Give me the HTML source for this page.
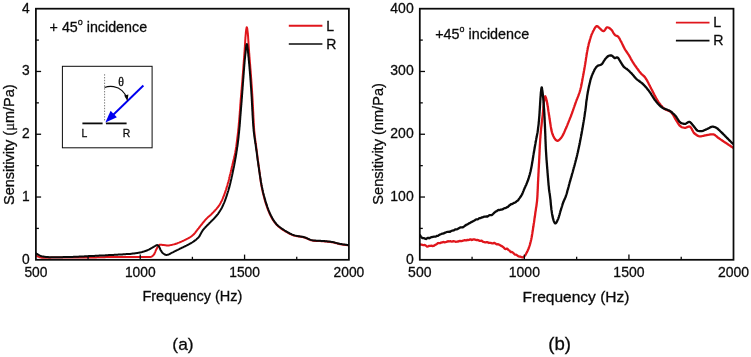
<!DOCTYPE html>
<html lang="en">
<head>
<meta charset="utf-8">
<title>Sensitivity vs Frequency</title>
<style>
html,body{margin:0;padding:0;background:#fff;}
body{width:751px;height:357px;overflow:hidden;font-family:'Liberation Sans', Arial, sans-serif;}
svg text{font-kerning:normal;stroke:#0a0a0a;stroke-width:0.28px;paint-order:stroke fill;}
</style>
</head>
<body>
<svg width="751" height="357" viewBox="0 0 751 357" style="display:block;filter:blur(0.35px)">
<rect width="751" height="357" fill="#ffffff"/>
<clipPath id="ca"><rect x="35.9" y="8.7" width="313.00" height="251.10"/></clipPath>
<clipPath id="cb"><rect x="419.8" y="8.7" width="313.70" height="251.10"/></clipPath>
<g clip-path="url(#ca)" fill="none" stroke-width="2.0" stroke-linejoin="round" stroke-linecap="round">
<path d="M36.0 255.3 L36.7 255.8 L37.3 256.2 L38.0 256.6 L38.8 256.9 L39.5 257.2 L40.3 257.4 L41.1 257.6 L41.9 257.7 L42.7 257.7 L43.5 257.7 L44.2 257.7 L45.0 257.7 L45.8 257.7 L46.6 257.7 L47.4 257.7 L48.2 257.7 L49.0 257.7 L49.8 257.7 L50.6 257.7 L51.4 257.6 L52.2 257.6 L53.0 257.6 L53.8 257.6 L54.6 257.6 L55.5 257.6 L56.3 257.6 L57.1 257.6 L57.9 257.6 L58.7 257.6 L59.5 257.6 L60.3 257.6 L61.1 257.6 L61.9 257.6 L62.7 257.6 L63.5 257.6 L64.3 257.6 L65.1 257.6 L65.9 257.6 L66.7 257.6 L67.5 257.6 L68.3 257.6 L69.1 257.6 L69.9 257.6 L70.7 257.6 L71.5 257.6 L72.3 257.6 L73.1 257.6 L73.9 257.6 L74.7 257.6 L75.5 257.6 L76.3 257.6 L77.1 257.5 L77.9 257.5 L78.7 257.5 L79.5 257.5 L80.3 257.5 L81.1 257.5 L81.9 257.5 L82.7 257.5 L83.5 257.5 L84.3 257.5 L85.1 257.5 L85.9 257.5 L86.7 257.5 L87.5 257.5 L88.3 257.5 L89.1 257.5 L89.8 257.5 L90.6 257.5 L91.4 257.5 L92.2 257.4 L93.0 257.4 L93.8 257.4 L94.6 257.4 L95.4 257.4 L96.2 257.4 L97.0 257.3 L97.8 257.3 L98.6 257.3 L99.4 257.3 L100.2 257.3 L101.0 257.3 L101.8 257.2 L102.6 257.2 L103.4 257.2 L104.2 257.2 L105.0 257.2 L105.8 257.1 L106.6 257.1 L107.4 257.1 L108.2 257.1 L109.0 257.1 L109.8 257.1 L110.6 257.0 L111.4 257.0 L112.2 257.0 L113.0 257.0 L113.8 257.0 L114.6 257.0 L115.4 257.0 L116.2 256.9 L117.0 256.9 L117.8 256.9 L118.6 256.9 L119.4 256.9 L120.2 256.9 L121.0 256.9 L121.8 256.9 L122.6 256.9 L123.4 256.9 L124.2 256.9 L125.0 256.9 L125.8 256.9 L126.6 256.9 L127.4 256.9 L128.2 256.9 L129.0 256.9 L129.8 256.9 L130.6 256.9 L131.4 256.9 L132.2 256.9 L133.0 256.9 L133.8 256.9 L134.6 256.9 L135.4 256.9 L136.2 256.9 L137.0 256.9 L137.8 256.9 L138.6 256.9 L139.4 256.9 L140.2 256.9 L141.0 256.9 L141.8 256.9 L142.7 256.9 L143.5 256.9 L144.3 256.9 L145.1 256.9 L145.9 257.0 L146.7 257.0 L147.5 257.0 L148.3 257.0 L149.1 257.0 L149.8 257.0 L150.6 256.9 L151.4 256.7 L152.1 256.3 L152.8 255.7 L153.4 255.2 L153.8 254.6 L154.3 254.0 L154.6 253.3 L155.0 252.5 L155.3 251.8 L155.6 251.0 L155.9 250.2 L156.3 249.5 L156.7 248.8 L157.0 248.1 L157.4 247.4 L157.8 246.7 L158.3 246.0 L158.8 245.4 L159.5 244.8 L160.2 244.7 L160.9 244.7 L161.8 244.8 L162.6 244.9 L163.4 244.9 L164.2 245.1 L165.0 245.2 L165.8 245.3 L166.6 245.4 L167.4 245.5 L168.1 245.5 L168.9 245.4 L169.7 245.3 L170.5 245.1 L171.3 244.9 L172.1 244.8 L172.9 244.6 L173.7 244.4 L174.4 244.2 L175.2 244.0 L176.0 243.7 L176.7 243.5 L177.5 243.2 L178.2 242.9 L179.0 242.6 L179.7 242.3 L180.4 242.0 L181.2 241.7 L181.9 241.4 L182.6 241.0 L183.4 240.7 L184.1 240.4 L184.8 240.0 L185.5 239.7 L186.2 239.3 L187.0 238.9 L187.7 238.6 L188.4 238.2 L189.1 237.8 L189.8 237.4 L190.5 237.0 L191.2 236.5 L191.8 236.1 L192.4 235.6 L193.0 235.1 L193.6 234.6 L194.1 234.0 L194.6 233.4 L195.1 232.8 L195.6 232.1 L196.1 231.5 L196.6 230.8 L197.1 230.2 L197.6 229.5 L198.1 228.9 L198.6 228.3 L199.1 227.6 L199.6 227.0 L200.1 226.4 L200.6 225.7 L201.1 225.1 L201.6 224.5 L202.1 223.9 L202.6 223.2 L203.1 222.6 L203.6 222.0 L204.1 221.4 L204.6 220.8 L205.1 220.2 L205.6 219.6 L206.2 219.0 L206.8 218.4 L207.3 217.9 L207.9 217.3 L208.5 216.8 L209.1 216.3 L209.7 215.7 L210.3 215.2 L210.9 214.7 L211.5 214.1 L212.1 213.5 L212.6 213.0 L213.2 212.4 L213.7 211.8 L214.3 211.2 L214.9 210.6 L215.4 210.0 L216.0 209.4 L216.5 208.8 L217.0 208.2 L217.5 207.6 L218.0 207.0 L218.5 206.4 L218.9 205.7 L219.4 205.1 L219.8 204.4 L220.2 203.7 L220.6 203.0 L220.9 202.3 L221.3 201.6 L221.7 200.9 L222.0 200.2 L222.4 199.4 L222.7 198.7 L223.0 197.9 L223.3 197.2 L223.6 196.5 L223.9 195.7 L224.2 195.0 L224.5 194.2 L224.7 193.5 L225.0 192.7 L225.3 192.0 L225.5 191.2 L225.8 190.4 L226.0 189.7 L226.2 188.9 L226.5 188.2 L226.7 187.4 L226.9 186.6 L227.2 185.8 L227.4 185.1 L227.6 184.3 L227.8 183.5 L228.0 182.8 L228.3 182.0 L228.5 181.2 L228.7 180.4 L228.9 179.7 L229.1 178.9 L229.2 178.1 L229.4 177.3 L229.6 176.6 L229.8 175.8 L230.0 175.0 L230.2 174.2 L230.4 173.5 L230.6 172.7 L230.8 171.9 L230.9 171.1 L231.1 170.3 L231.3 169.6 L231.5 168.8 L231.7 168.0 L231.8 167.2 L232.0 166.4 L232.2 165.7 L232.4 164.9 L232.6 164.1 L232.8 163.3 L233.0 162.6 L233.1 161.8 L233.3 161.0 L233.5 160.2 L233.7 159.4 L233.9 158.7 L234.1 157.9 L234.3 157.1 L234.5 156.3 L234.6 155.6 L234.8 154.8 L235.0 154.0 L235.1 153.2 L235.3 152.4 L235.4 151.6 L235.5 150.8 L235.7 150.1 L235.8 149.3 L235.9 148.5 L236.0 147.7 L236.2 146.9 L236.3 146.1 L236.4 145.3 L236.5 144.5 L236.6 143.7 L236.7 142.9 L236.8 142.1 L236.9 141.3 L237.0 140.6 L237.1 139.8 L237.2 139.0 L237.3 138.2 L237.4 137.4 L237.5 136.6 L237.6 135.8 L237.7 135.0 L237.8 134.2 L237.9 133.4 L238.0 132.6 L238.1 131.8 L238.2 131.0 L238.2 130.2 L238.3 129.4 L238.4 128.6 L238.5 127.8 L238.6 127.0 L238.6 126.3 L238.7 125.5 L238.8 124.7 L238.8 123.9 L238.9 123.1 L239.0 122.3 L239.1 121.5 L239.1 120.7 L239.2 119.9 L239.3 119.1 L239.3 118.3 L239.4 117.5 L239.5 116.7 L239.5 115.9 L239.6 115.1 L239.7 114.3 L239.7 113.5 L239.8 112.7 L239.8 111.9 L239.9 111.1 L240.0 110.3 L240.0 109.5 L240.1 108.7 L240.1 107.9 L240.2 107.1 L240.2 106.3 L240.3 105.5 L240.3 104.7 L240.4 103.9 L240.5 103.1 L240.5 102.3 L240.6 101.5 L240.6 100.7 L240.7 99.9 L240.8 99.1 L240.8 98.3 L240.9 97.6 L241.0 96.8 L241.0 96.0 L241.1 95.2 L241.2 94.4 L241.2 93.6 L241.3 92.8 L241.4 92.0 L241.4 91.2 L241.5 90.4 L241.6 89.6 L241.7 88.8 L241.7 88.0 L241.8 87.2 L241.9 86.4 L241.9 85.6 L242.0 84.8 L242.1 84.0 L242.1 83.2 L242.2 82.4 L242.3 81.6 L242.3 80.8 L242.4 80.0 L242.5 79.2 L242.5 78.4 L242.6 77.6 L242.6 76.8 L242.7 76.0 L242.8 75.2 L242.8 74.4 L242.9 73.6 L243.0 72.8 L243.0 72.0 L243.1 71.3 L243.1 70.5 L243.2 69.7 L243.3 68.9 L243.3 68.1 L243.4 67.3 L243.4 66.5 L243.5 65.7 L243.5 64.9 L243.6 64.1 L243.7 63.3 L243.7 62.5 L243.8 61.7 L243.8 60.9 L243.9 60.1 L244.0 59.3 L244.0 58.5 L244.1 57.7 L244.1 56.9 L244.2 56.1 L244.3 55.3 L244.3 54.5 L244.4 53.7 L244.4 52.9 L244.5 52.1 L244.6 51.3 L244.6 50.5 L244.7 49.7 L244.7 48.9 L244.8 48.1 L244.8 47.3 L244.9 46.5 L244.9 45.7 L245.0 44.9 L245.0 44.1 L245.1 43.3 L245.1 42.5 L245.2 41.7 L245.2 40.9 L245.3 40.1 L245.3 39.3 L245.4 38.5 L245.4 37.7 L245.5 36.9 L245.6 36.1 L245.6 35.3 L245.7 34.5 L245.8 33.8 L245.8 33.0 L245.9 32.2 L246.0 31.4 L246.1 30.6 L246.2 29.7 L246.4 28.6 L246.6 27.7 L246.7 27.2 L246.9 27.4 L247.1 28.0 L247.3 29.0 L247.4 30.0 L247.5 30.9 L247.6 31.7 L247.7 32.5 L247.8 33.2 L247.9 34.0 L247.9 34.8 L248.0 35.6 L248.1 36.4 L248.1 37.2 L248.2 38.0 L248.2 38.8 L248.3 39.6 L248.3 40.4 L248.4 41.2 L248.4 42.0 L248.5 42.8 L248.5 43.6 L248.6 44.4 L248.6 45.2 L248.7 46.0 L248.7 46.8 L248.8 47.6 L248.8 48.4 L248.9 49.2 L249.0 50.0 L249.0 50.8 L249.1 51.6 L249.1 52.4 L249.2 53.2 L249.3 54.0 L249.3 54.8 L249.4 55.6 L249.4 56.4 L249.5 57.2 L249.6 58.0 L249.6 58.8 L249.7 59.6 L249.8 60.4 L249.8 61.2 L249.9 62.0 L250.0 62.8 L250.0 63.6 L250.1 64.4 L250.2 65.2 L250.2 66.0 L250.3 66.8 L250.3 67.5 L250.4 68.3 L250.5 69.1 L250.5 69.9 L250.6 70.7 L250.7 71.5 L250.7 72.3 L250.8 73.1 L250.8 73.9 L250.9 74.7 L251.0 75.5 L251.0 76.3 L251.1 77.1 L251.1 77.9 L251.2 78.7 L251.3 79.5 L251.3 80.3 L251.4 81.1 L251.4 81.9 L251.5 82.7 L251.5 83.5 L251.6 84.3 L251.7 85.1 L251.7 85.9 L251.8 86.7 L251.8 87.5 L251.9 88.3 L251.9 89.1 L252.0 89.9 L252.0 90.7 L252.1 91.5 L252.1 92.3 L252.2 93.1 L252.2 93.9 L252.3 94.7 L252.3 95.5 L252.4 96.3 L252.4 97.1 L252.5 97.9 L252.5 98.7 L252.6 99.5 L252.6 100.3 L252.7 101.1 L252.7 101.9 L252.7 102.7 L252.8 103.5 L252.8 104.2 L252.9 105.0 L252.9 105.8 L252.9 106.6 L253.0 107.4 L253.0 108.2 L253.1 109.0 L253.1 109.8 L253.1 110.6 L253.2 111.4 L253.2 112.2 L253.3 113.0 L253.3 113.8 L253.3 114.6 L253.4 115.4 L253.4 116.2 L253.4 117.0 L253.5 117.8 L253.5 118.6 L253.6 119.4 L253.6 120.2 L253.7 121.0 L253.7 121.8 L253.7 122.6 L253.8 123.4 L253.8 124.2 L253.9 125.0 L253.9 125.8 L254.0 126.6 L254.0 127.4 L254.1 128.2 L254.1 129.0 L254.2 129.8 L254.2 130.6 L254.3 131.4 L254.4 132.2 L254.5 133.0 L254.6 133.8 L254.6 134.6 L254.7 135.4 L254.8 136.2 L254.9 137.0 L255.0 137.8 L255.1 138.5 L255.2 139.3 L255.3 140.1 L255.4 140.9 L255.5 141.7 L255.6 142.5 L255.7 143.3 L255.9 144.1 L256.0 144.9 L256.1 145.7 L256.2 146.5 L256.3 147.3 L256.4 148.1 L256.5 148.9 L256.6 149.7 L256.7 150.4 L256.8 151.2 L256.9 152.0 L257.0 152.8 L257.1 153.6 L257.2 154.4 L257.3 155.2 L257.4 156.0 L257.5 156.8 L257.6 157.6 L257.7 158.4 L257.8 159.2 L257.9 160.0 L258.0 160.8 L258.1 161.5 L258.2 162.3 L258.3 163.1 L258.4 163.9 L258.5 164.7 L258.6 165.5 L258.8 166.3 L258.9 167.1 L259.0 167.9 L259.1 168.7 L259.2 169.5 L259.3 170.3 L259.4 171.1 L259.5 171.9 L259.6 172.7 L259.7 173.4 L259.8 174.2 L259.9 175.0 L260.0 175.8 L260.1 176.6 L260.2 177.4 L260.3 178.2 L260.4 179.0 L260.5 179.8 L260.6 180.6 L260.7 181.4 L260.8 182.2 L261.0 183.0 L261.1 183.7 L261.2 184.5 L261.4 185.3 L261.5 186.1 L261.7 186.9 L261.8 187.7 L262.0 188.5 L262.1 189.2 L262.3 190.0 L262.5 190.8 L262.6 191.6 L262.8 192.4 L263.0 193.1 L263.2 193.9 L263.4 194.7 L263.6 195.5 L263.8 196.3 L264.0 197.0 L264.2 197.8 L264.4 198.6 L264.6 199.4 L264.8 200.1 L265.0 200.9 L265.2 201.6 L265.5 202.4 L265.7 203.2 L265.9 203.9 L266.2 204.7 L266.5 205.5 L266.7 206.2 L267.0 207.0 L267.3 207.8 L267.5 208.5 L267.8 209.3 L268.1 210.0 L268.4 210.7 L268.7 211.5 L269.0 212.2 L269.3 212.9 L269.6 213.7 L270.0 214.4 L270.3 215.1 L270.7 215.8 L271.0 216.6 L271.4 217.3 L271.8 218.0 L272.2 218.7 L272.6 219.4 L273.1 220.1 L273.5 220.8 L274.0 221.4 L274.4 222.1 L274.9 222.7 L275.4 223.3 L275.9 223.9 L276.4 224.5 L276.9 225.1 L277.5 225.6 L278.1 226.2 L278.7 226.7 L279.3 227.2 L280.0 227.7 L280.6 228.2 L281.3 228.7 L281.9 229.2 L282.6 229.6 L283.3 230.1 L283.9 230.5 L284.6 230.9 L285.3 231.3 L286.0 231.7 L286.7 232.1 L287.4 232.5 L288.1 232.9 L288.8 233.3 L289.5 233.7 L290.3 234.0 L291.0 234.4 L291.7 234.7 L292.5 235.0 L293.2 235.2 L294.0 235.5 L294.7 235.7 L295.5 235.9 L296.3 236.1 L297.0 236.2 L297.8 236.3 L298.6 236.5 L299.4 236.6 L300.2 236.7 L301.0 236.8 L301.8 237.0 L302.6 237.1 L303.4 237.3 L304.2 237.5 L304.9 237.7 L305.7 238.0 L306.4 238.3 L307.2 238.6 L307.9 239.0 L308.7 239.3 L309.4 239.6 L310.1 239.9 L310.9 240.2 L311.6 240.4 L312.4 240.6 L313.2 240.7 L314.0 240.8 L314.7 240.9 L315.5 240.9 L316.3 241.0 L317.1 241.0 L317.9 241.0 L318.7 241.1 L319.5 241.1 L320.4 241.1 L321.2 241.2 L322.0 241.2 L322.8 241.2 L323.6 241.3 L324.4 241.4 L325.2 241.5 L326.0 241.5 L326.8 241.6 L327.6 241.7 L328.3 241.8 L329.1 241.9 L329.9 241.9 L330.7 242.0 L331.5 242.2 L332.3 242.3 L333.1 242.4 L333.9 242.6 L334.6 242.8 L335.4 243.0 L336.2 243.2 L337.0 243.4 L337.7 243.7 L338.5 243.8 L339.3 244.0 L340.1 244.2 L340.9 244.3 L341.6 244.4 L342.4 244.6 L343.2 244.7 L344.0 244.8 L344.8 244.9 L345.6 245.0 L346.4 245.1 L347.2 245.2 L348.0 245.2 L348.8 245.3" stroke="#e0161c"/>
<path d="M36.0 253.4 L36.7 253.8 L37.4 254.2 L38.1 254.6 L38.8 255.0 L39.5 255.4 L40.2 255.7 L41.0 256.0 L41.7 256.2 L42.5 256.4 L43.3 256.5 L44.1 256.7 L44.9 256.8 L45.7 256.9 L46.5 257.0 L47.3 257.0 L48.1 257.1 L48.9 257.2 L49.7 257.2 L50.5 257.2 L51.3 257.2 L52.0 257.2 L52.8 257.2 L53.6 257.2 L54.4 257.2 L55.2 257.2 L56.0 257.2 L56.8 257.2 L57.6 257.2 L58.4 257.2 L59.2 257.2 L60.0 257.2 L60.8 257.2 L61.6 257.2 L62.4 257.2 L63.2 257.1 L64.0 257.1 L64.8 257.1 L65.6 257.1 L66.4 257.1 L67.2 257.0 L68.0 257.0 L68.8 257.0 L69.6 257.0 L70.4 257.0 L71.2 256.9 L72.0 256.9 L72.8 256.9 L73.6 256.8 L74.4 256.8 L75.2 256.8 L76.0 256.8 L76.8 256.7 L77.6 256.7 L78.4 256.7 L79.2 256.6 L80.0 256.6 L80.8 256.5 L81.6 256.5 L82.4 256.4 L83.2 256.4 L84.0 256.4 L84.8 256.3 L85.6 256.3 L86.4 256.2 L87.2 256.2 L88.0 256.2 L88.8 256.1 L89.6 256.1 L90.4 256.0 L91.2 256.0 L92.0 256.0 L92.8 255.9 L93.6 255.9 L94.4 255.9 L95.2 255.8 L96.0 255.8 L96.8 255.8 L97.6 255.7 L98.4 255.7 L99.2 255.6 L100.0 255.6 L100.8 255.6 L101.6 255.5 L102.4 255.5 L103.2 255.4 L104.0 255.4 L104.8 255.4 L105.6 255.3 L106.4 255.3 L107.2 255.2 L108.0 255.2 L108.8 255.1 L109.6 255.1 L110.4 255.1 L111.2 255.0 L112.0 255.0 L112.8 254.9 L113.6 254.9 L114.4 254.8 L115.2 254.8 L116.0 254.7 L116.8 254.7 L117.6 254.7 L118.4 254.6 L119.2 254.6 L119.9 254.5 L120.7 254.5 L121.5 254.4 L122.3 254.4 L123.1 254.3 L123.9 254.3 L124.7 254.2 L125.5 254.2 L126.3 254.1 L127.1 254.1 L127.9 254.0 L128.7 254.0 L129.5 253.9 L130.3 253.9 L131.1 253.8 L131.9 253.7 L132.7 253.6 L133.5 253.5 L134.3 253.4 L135.1 253.3 L135.9 253.2 L136.7 253.1 L137.5 252.9 L138.3 252.8 L139.0 252.7 L139.8 252.5 L140.6 252.4 L141.4 252.2 L142.2 252.0 L142.9 251.8 L143.7 251.6 L144.5 251.3 L145.2 251.1 L146.0 250.8 L146.7 250.5 L147.5 250.2 L148.2 249.9 L148.9 249.6 L149.6 249.2 L150.3 248.8 L151.0 248.4 L151.7 248.0 L152.4 247.6 L153.1 247.2 L153.8 246.8 L154.5 246.3 L155.3 245.9 L156.0 245.5 L156.7 245.2 L157.3 245.1 L158.0 245.5 L158.7 246.1 L159.2 246.8 L159.5 247.5 L159.8 248.2 L160.1 249.0 L160.4 249.7 L160.8 250.4 L161.3 251.1 L161.7 251.8 L162.2 252.5 L162.7 253.0 L163.3 253.5 L164.0 254.0 L164.7 254.5 L165.5 254.8 L166.2 254.9 L167.0 254.9 L167.8 254.7 L168.6 254.5 L169.3 254.2 L170.0 253.8 L170.7 253.4 L171.4 253.0 L172.1 252.6 L172.8 252.3 L173.6 251.9 L174.3 251.5 L175.0 251.2 L175.7 250.8 L176.4 250.5 L177.1 250.1 L177.8 249.8 L178.6 249.4 L179.3 249.1 L180.0 248.7 L180.7 248.3 L181.4 248.0 L182.2 247.6 L182.9 247.3 L183.6 247.0 L184.3 246.6 L185.1 246.3 L185.8 245.9 L186.5 245.6 L187.2 245.2 L187.9 244.8 L188.6 244.5 L189.3 244.1 L190.0 243.7 L190.7 243.3 L191.4 242.9 L192.1 242.5 L192.8 242.0 L193.4 241.6 L194.1 241.1 L194.8 240.6 L195.4 240.2 L196.1 239.7 L196.7 239.1 L197.3 238.6 L197.8 238.1 L198.4 237.5 L198.9 236.9 L199.3 236.3 L199.8 235.6 L200.1 234.9 L200.5 234.2 L200.9 233.5 L201.3 232.8 L201.7 232.1 L202.1 231.4 L202.5 230.7 L203.0 230.0 L203.5 229.4 L204.0 228.8 L204.5 228.2 L205.1 227.6 L205.6 227.0 L206.2 226.5 L206.7 225.9 L207.3 225.3 L207.9 224.8 L208.4 224.2 L209.0 223.6 L209.5 223.0 L210.1 222.5 L210.7 221.9 L211.2 221.3 L211.8 220.8 L212.4 220.2 L213.0 219.6 L213.5 219.1 L214.1 218.5 L214.6 217.9 L215.2 217.3 L215.7 216.7 L216.2 216.1 L216.7 215.5 L217.2 214.9 L217.7 214.3 L218.2 213.6 L218.6 213.0 L219.1 212.3 L219.5 211.6 L220.0 210.9 L220.4 210.3 L220.8 209.6 L221.2 208.9 L221.6 208.2 L222.0 207.5 L222.3 206.8 L222.7 206.1 L223.0 205.3 L223.3 204.6 L223.6 203.9 L224.0 203.1 L224.3 202.4 L224.6 201.7 L224.9 200.9 L225.2 200.2 L225.4 199.4 L225.7 198.6 L226.0 197.9 L226.2 197.1 L226.5 196.4 L226.7 195.6 L227.0 194.9 L227.2 194.1 L227.4 193.3 L227.7 192.6 L227.9 191.8 L228.2 191.0 L228.4 190.3 L228.6 189.5 L228.8 188.7 L229.1 188.0 L229.3 187.2 L229.5 186.4 L229.7 185.6 L229.9 184.9 L230.1 184.1 L230.3 183.3 L230.5 182.5 L230.6 181.8 L230.8 181.0 L231.0 180.2 L231.2 179.4 L231.4 178.7 L231.5 177.9 L231.7 177.1 L231.9 176.3 L232.1 175.5 L232.2 174.8 L232.4 174.0 L232.6 173.2 L232.7 172.4 L232.9 171.6 L233.1 170.8 L233.2 170.1 L233.4 169.3 L233.5 168.5 L233.7 167.7 L233.9 166.9 L234.0 166.1 L234.2 165.4 L234.3 164.6 L234.5 163.8 L234.6 163.0 L234.8 162.2 L234.9 161.4 L235.1 160.6 L235.2 159.9 L235.3 159.1 L235.5 158.3 L235.6 157.5 L235.8 156.7 L235.9 155.9 L236.0 155.1 L236.2 154.3 L236.3 153.5 L236.4 152.8 L236.5 152.0 L236.6 151.2 L236.8 150.4 L236.9 149.6 L237.0 148.8 L237.1 148.0 L237.2 147.2 L237.4 146.4 L237.5 145.6 L237.6 144.8 L237.7 144.1 L237.8 143.3 L237.9 142.5 L238.0 141.7 L238.1 140.9 L238.2 140.1 L238.3 139.3 L238.4 138.5 L238.5 137.7 L238.6 136.9 L238.6 136.1 L238.7 135.3 L238.8 134.5 L238.9 133.7 L239.0 132.9 L239.1 132.1 L239.1 131.3 L239.2 130.6 L239.3 129.8 L239.4 129.0 L239.4 128.2 L239.5 127.4 L239.6 126.6 L239.7 125.8 L239.7 125.0 L239.8 124.2 L239.9 123.4 L239.9 122.6 L240.0 121.8 L240.0 121.0 L240.1 120.2 L240.2 119.4 L240.2 118.6 L240.3 117.8 L240.3 117.0 L240.4 116.2 L240.5 115.4 L240.5 114.6 L240.6 113.8 L240.7 113.0 L240.7 112.2 L240.8 111.4 L240.9 110.6 L240.9 109.8 L241.0 109.0 L241.0 108.2 L241.1 107.4 L241.2 106.6 L241.2 105.9 L241.3 105.1 L241.4 104.3 L241.4 103.5 L241.5 102.7 L241.6 101.9 L241.6 101.1 L241.7 100.3 L241.7 99.5 L241.8 98.7 L241.9 97.9 L241.9 97.1 L242.0 96.3 L242.0 95.5 L242.1 94.7 L242.2 93.9 L242.2 93.1 L242.3 92.3 L242.3 91.5 L242.4 90.7 L242.5 89.9 L242.5 89.1 L242.6 88.3 L242.6 87.5 L242.7 86.7 L242.8 85.9 L242.8 85.1 L242.9 84.3 L242.9 83.5 L243.0 82.7 L243.1 81.9 L243.1 81.1 L243.2 80.3 L243.2 79.5 L243.3 78.7 L243.4 77.9 L243.4 77.2 L243.5 76.4 L243.5 75.6 L243.6 74.8 L243.7 74.0 L243.7 73.2 L243.8 72.4 L243.8 71.6 L243.9 70.8 L244.0 70.0 L244.0 69.2 L244.1 68.4 L244.1 67.6 L244.2 66.8 L244.3 66.0 L244.3 65.2 L244.4 64.4 L244.5 63.6 L244.5 62.8 L244.6 62.0 L244.7 61.2 L244.7 60.4 L244.8 59.6 L244.9 58.8 L245.0 58.0 L245.1 57.2 L245.1 56.4 L245.2 55.6 L245.3 54.8 L245.4 54.1 L245.5 53.3 L245.6 52.5 L245.6 51.7 L245.7 50.9 L245.8 50.1 L245.9 49.3 L245.9 48.5 L246.0 47.7 L246.1 46.9 L246.3 46.1 L246.5 45.0 L246.7 44.2 L246.9 44.0 L247.1 44.6 L247.3 45.6 L247.4 46.6 L247.5 47.3 L247.6 48.1 L247.7 48.9 L247.8 49.7 L247.9 50.5 L247.9 51.3 L248.0 52.1 L248.1 52.9 L248.2 53.7 L248.3 54.5 L248.3 55.3 L248.4 56.1 L248.5 56.9 L248.6 57.7 L248.7 58.5 L248.7 59.3 L248.8 60.1 L248.9 60.9 L249.0 61.7 L249.0 62.5 L249.1 63.3 L249.2 64.1 L249.3 64.8 L249.3 65.6 L249.4 66.4 L249.5 67.2 L249.5 68.0 L249.6 68.8 L249.7 69.6 L249.7 70.4 L249.8 71.2 L249.9 72.0 L249.9 72.8 L250.0 73.6 L250.1 74.4 L250.1 75.2 L250.2 76.0 L250.3 76.8 L250.3 77.6 L250.4 78.4 L250.4 79.2 L250.5 80.0 L250.6 80.8 L250.6 81.6 L250.7 82.4 L250.7 83.2 L250.8 84.0 L250.8 84.8 L250.9 85.6 L250.9 86.4 L251.0 87.2 L251.1 88.0 L251.1 88.8 L251.2 89.6 L251.2 90.4 L251.3 91.2 L251.3 92.0 L251.4 92.8 L251.4 93.6 L251.5 94.3 L251.5 95.1 L251.6 95.9 L251.6 96.7 L251.7 97.5 L251.7 98.3 L251.8 99.1 L251.8 99.9 L251.8 100.7 L251.9 101.5 L251.9 102.3 L252.0 103.1 L252.0 103.9 L252.0 104.7 L252.1 105.5 L252.1 106.3 L252.2 107.1 L252.2 107.9 L252.2 108.7 L252.3 109.5 L252.3 110.3 L252.4 111.1 L252.4 111.9 L252.5 112.7 L252.5 113.5 L252.5 114.3 L252.6 115.1 L252.6 115.9 L252.7 116.7 L252.7 117.5 L252.8 118.3 L252.8 119.1 L252.9 119.9 L252.9 120.7 L253.0 121.5 L253.0 122.3 L253.1 123.1 L253.1 123.9 L253.2 124.7 L253.2 125.5 L253.3 126.3 L253.4 127.1 L253.4 127.9 L253.5 128.7 L253.6 129.5 L253.6 130.3 L253.7 131.1 L253.8 131.8 L253.9 132.6 L254.0 133.4 L254.1 134.2 L254.2 135.0 L254.3 135.8 L254.4 136.6 L254.5 137.4 L254.6 138.2 L254.7 139.0 L254.9 139.8 L255.0 140.6 L255.1 141.4 L255.2 142.1 L255.3 142.9 L255.5 143.7 L255.6 144.5 L255.7 145.3 L255.8 146.1 L255.9 146.9 L256.0 147.7 L256.1 148.5 L256.2 149.3 L256.3 150.1 L256.5 150.9 L256.6 151.6 L256.7 152.4 L256.8 153.2 L256.9 154.0 L257.0 154.8 L257.1 155.6 L257.2 156.4 L257.3 157.2 L257.4 158.0 L257.5 158.8 L257.6 159.6 L257.7 160.4 L257.9 161.2 L258.0 161.9 L258.1 162.7 L258.2 163.5 L258.3 164.3 L258.4 165.1 L258.5 165.9 L258.6 166.7 L258.8 167.5 L258.9 168.3 L259.0 169.1 L259.1 169.9 L259.2 170.7 L259.3 171.4 L259.5 172.2 L259.6 173.0 L259.7 173.8 L259.8 174.6 L259.9 175.4 L260.1 176.2 L260.2 177.0 L260.3 177.8 L260.4 178.6 L260.6 179.3 L260.7 180.1 L260.8 180.9 L260.9 181.7 L261.1 182.5 L261.2 183.3 L261.4 184.1 L261.5 184.9 L261.7 185.6 L261.8 186.4 L262.0 187.2 L262.2 188.0 L262.3 188.8 L262.5 189.6 L262.7 190.3 L262.9 191.1 L263.0 191.9 L263.2 192.7 L263.4 193.4 L263.6 194.2 L263.8 195.0 L264.0 195.8 L264.2 196.5 L264.4 197.3 L264.6 198.1 L264.8 198.9 L265.1 199.6 L265.3 200.4 L265.5 201.2 L265.7 201.9 L266.0 202.7 L266.2 203.5 L266.5 204.2 L266.7 205.0 L267.0 205.7 L267.2 206.5 L267.5 207.3 L267.8 208.0 L268.1 208.8 L268.3 209.5 L268.6 210.3 L268.9 211.0 L269.2 211.7 L269.5 212.5 L269.8 213.2 L270.2 213.9 L270.5 214.6 L270.8 215.4 L271.2 216.1 L271.6 216.8 L272.0 217.5 L272.4 218.3 L272.8 219.0 L273.2 219.7 L273.6 220.4 L274.1 221.0 L274.5 221.7 L275.0 222.3 L275.5 222.9 L275.9 223.5 L276.4 224.1 L277.0 224.7 L277.5 225.2 L278.1 225.8 L278.7 226.3 L279.4 226.8 L280.0 227.3 L280.7 227.8 L281.3 228.3 L282.0 228.7 L282.7 229.2 L283.4 229.6 L284.0 230.0 L284.7 230.5 L285.4 230.9 L286.1 231.3 L286.7 231.7 L287.4 232.1 L288.1 232.5 L288.9 232.9 L289.6 233.3 L290.3 233.7 L291.0 234.0 L291.8 234.4 L292.5 234.7 L293.2 234.9 L294.0 235.2 L294.7 235.4 L295.5 235.6 L296.3 235.8 L297.0 235.9 L297.8 236.1 L298.6 236.2 L299.4 236.3 L300.2 236.4 L301.0 236.6 L301.8 236.7 L302.6 236.8 L303.4 237.0 L304.2 237.2 L304.9 237.4 L305.7 237.7 L306.4 238.0 L307.2 238.3 L307.9 238.7 L308.7 239.0 L309.4 239.3 L310.1 239.6 L310.9 239.9 L311.6 240.1 L312.4 240.3 L313.2 240.4 L314.0 240.5 L314.8 240.6 L315.5 240.6 L316.3 240.7 L317.1 240.7 L317.9 240.7 L318.7 240.8 L319.6 240.8 L320.4 240.8 L321.2 240.9 L322.0 240.9 L322.8 240.9 L323.6 241.0 L324.4 241.1 L325.2 241.2 L326.0 241.2 L326.8 241.3 L327.6 241.4 L328.4 241.5 L329.1 241.6 L329.9 241.6 L330.7 241.7 L331.5 241.9 L332.3 242.0 L333.1 242.1 L333.9 242.3 L334.6 242.5 L335.4 242.7 L336.2 242.9 L337.0 243.1 L337.7 243.4 L338.5 243.5 L339.3 243.7 L340.1 243.9 L340.9 244.0 L341.7 244.1 L342.4 244.3 L343.2 244.4 L344.0 244.5 L344.8 244.6 L345.6 244.7 L346.4 244.8 L347.2 244.9 L348.0 244.9 L348.8 245.0" stroke="#0a0a0a"/>
</g>
<g clip-path="url(#cb)" fill="none" stroke-width="2.3" stroke-linejoin="round" stroke-linecap="round">
<path d="M420.1 244.4 L420.9 244.6 L421.6 244.6 L422.4 244.9 L423.2 245.1 L424.0 245.1 L424.7 245.0 L425.5 245.3 L426.3 246.0 L427.1 246.7 L428.0 246.5 L428.8 246.0 L429.6 245.9 L430.4 245.8 L431.2 245.7 L432.0 245.9 L432.7 246.0 L433.5 245.9 L434.2 245.6 L434.9 245.1 L435.6 244.7 L436.3 244.5 L437.0 243.9 L437.7 243.2 L438.4 243.0 L439.2 243.2 L439.9 243.2 L440.7 242.7 L441.5 242.5 L442.3 242.4 L443.1 242.1 L443.9 242.0 L444.7 242.3 L445.5 242.2 L446.3 242.0 L447.1 241.6 L447.9 241.2 L448.7 241.5 L449.5 241.3 L450.3 241.1 L451.1 241.5 L451.9 241.7 L452.7 241.3 L453.5 241.1 L454.3 241.3 L455.1 241.5 L455.9 241.8 L456.7 241.7 L457.5 241.5 L458.3 241.5 L459.1 241.1 L459.9 240.9 L460.7 241.2 L461.5 241.2 L462.3 240.8 L463.1 240.6 L463.9 240.4 L464.7 240.1 L465.5 240.4 L466.3 240.4 L467.0 240.0 L467.8 239.9 L468.6 240.0 L469.4 239.8 L470.2 239.4 L471.0 239.4 L471.8 240.0 L472.6 239.8 L473.4 239.3 L474.2 239.3 L475.0 239.7 L475.8 239.9 L476.6 240.1 L477.3 240.0 L478.1 240.1 L478.9 240.4 L479.7 240.9 L480.5 240.9 L481.3 240.7 L482.1 240.9 L482.8 241.7 L483.6 242.0 L484.4 242.2 L485.2 242.4 L485.9 242.3 L486.7 242.1 L487.5 242.2 L488.3 242.6 L489.0 243.0 L489.8 242.8 L490.6 242.8 L491.4 243.2 L492.2 243.4 L493.0 243.4 L493.8 243.0 L494.6 243.0 L495.4 243.6 L496.2 244.1 L497.0 244.3 L497.7 244.2 L498.5 244.4 L499.2 244.7 L499.9 245.1 L500.6 245.6 L501.3 245.8 L502.0 246.2 L502.7 246.8 L503.4 247.2 L504.1 247.9 L504.8 248.7 L505.5 249.1 L506.2 248.9 L506.9 248.6 L507.6 249.0 L508.2 249.8 L508.9 250.2 L509.5 250.5 L510.1 251.5 L510.8 252.1 L511.5 251.9 L512.2 252.1 L512.9 252.6 L513.6 253.3 L514.3 254.1 L515.0 254.6 L515.8 254.6 L516.5 254.8 L517.2 255.4 L518.0 256.0 L518.7 256.4 L519.5 256.6 L520.3 256.6 L521.0 257.0 L521.7 257.2 L522.4 257.4 L523.0 257.4 L523.6 257.1 L524.2 256.6 L524.7 255.9 L525.3 255.1 L525.8 254.3 L526.2 253.5 L526.6 252.8 L527.0 252.1 L527.3 251.4 L527.7 250.7 L528.0 249.9 L528.3 249.2 L528.6 248.5 L528.9 247.7 L529.2 246.9 L529.4 246.2 L529.7 245.4 L529.9 244.7 L530.1 243.9 L530.3 243.1 L530.5 242.3 L530.7 241.6 L530.9 240.8 L531.1 240.0 L531.3 239.2 L531.4 238.4 L531.6 237.7 L531.7 236.9 L531.9 236.1 L532.0 235.3 L532.1 234.5 L532.3 233.7 L532.4 232.9 L532.5 232.2 L532.6 231.4 L532.8 230.6 L532.9 229.8 L533.0 229.0 L533.1 228.2 L533.2 227.4 L533.4 226.6 L533.5 225.8 L533.6 225.0 L533.7 224.2 L533.8 223.5 L534.0 222.7 L534.1 221.9 L534.2 221.1 L534.3 220.3 L534.4 219.5 L534.5 218.7 L534.6 217.9 L534.8 217.1 L534.9 216.3 L535.0 215.5 L535.1 214.8 L535.2 214.0 L535.3 213.2 L535.4 212.4 L535.5 211.6 L535.7 210.8 L535.8 210.0 L535.9 209.2 L536.0 208.4 L536.1 207.6 L536.3 206.8 L536.4 206.0 L536.5 205.3 L536.6 204.5 L536.7 203.7 L536.8 202.9 L536.9 202.1 L537.0 201.3 L537.1 200.5 L537.1 199.7 L537.2 198.9 L537.3 198.1 L537.3 197.3 L537.4 196.5 L537.4 195.7 L537.5 194.9 L537.5 194.1 L537.5 193.3 L537.6 192.5 L537.6 191.7 L537.7 190.9 L537.7 190.1 L537.7 189.3 L537.8 188.5 L537.8 187.7 L537.8 186.9 L537.9 186.1 L537.9 185.3 L537.9 184.5 L538.0 183.7 L538.0 182.9 L538.0 182.1 L538.1 181.3 L538.1 180.6 L538.2 179.8 L538.2 179.0 L538.2 178.2 L538.3 177.4 L538.3 176.6 L538.4 175.8 L538.4 175.0 L538.4 174.2 L538.5 173.4 L538.5 172.6 L538.6 171.8 L538.6 171.0 L538.6 170.2 L538.7 169.4 L538.7 168.6 L538.8 167.8 L538.8 167.0 L538.9 166.2 L538.9 165.4 L538.9 164.6 L539.0 163.8 L539.0 163.0 L539.1 162.2 L539.1 161.4 L539.1 160.6 L539.2 159.8 L539.2 159.0 L539.3 158.2 L539.3 157.4 L539.3 156.6 L539.4 155.8 L539.4 155.0 L539.5 154.2 L539.5 153.4 L539.5 152.6 L539.6 151.8 L539.6 151.0 L539.6 150.2 L539.7 149.4 L539.7 148.6 L539.8 147.8 L539.8 147.0 L539.8 146.2 L539.9 145.4 L539.9 144.6 L540.0 143.8 L540.0 143.0 L540.1 142.2 L540.1 141.4 L540.2 140.6 L540.2 139.8 L540.2 139.0 L540.3 138.3 L540.4 137.5 L540.4 136.7 L540.5 135.9 L540.5 135.1 L540.6 134.3 L540.7 133.5 L540.8 132.7 L540.8 131.9 L540.9 131.1 L541.0 130.3 L541.0 129.5 L541.1 128.7 L541.2 127.9 L541.3 127.1 L541.4 126.3 L541.5 125.5 L541.6 124.7 L541.7 123.9 L541.7 123.1 L541.8 122.3 L541.9 121.5 L542.0 120.8 L542.1 120.0 L542.2 119.2 L542.3 118.4 L542.4 117.6 L542.5 116.8 L542.6 116.0 L542.7 115.2 L542.8 114.4 L542.8 113.6 L542.9 112.8 L543.0 112.0 L543.1 111.2 L543.1 110.4 L543.2 109.6 L543.3 108.8 L543.4 108.0 L543.4 107.2 L543.5 106.4 L543.6 105.6 L543.7 104.8 L543.8 104.1 L543.8 103.3 L543.9 102.5 L544.0 101.7 L544.1 100.9 L544.3 99.9 L544.4 98.9 L544.6 97.9 L544.8 97.1 L545.0 96.5 L545.2 96.3 L545.5 96.6 L545.7 97.2 L546.0 98.0 L546.3 99.0 L546.5 100.0 L546.7 100.9 L546.9 101.7 L547.1 102.5 L547.2 103.3 L547.3 104.1 L547.5 104.9 L547.6 105.6 L547.7 106.4 L547.9 107.2 L548.0 108.0 L548.1 108.8 L548.2 109.6 L548.3 110.4 L548.4 111.2 L548.6 112.0 L548.7 112.8 L548.8 113.6 L548.9 114.3 L549.0 115.1 L549.2 115.9 L549.3 116.7 L549.4 117.5 L549.5 118.3 L549.6 119.1 L549.8 119.9 L549.9 120.7 L550.0 121.5 L550.1 122.3 L550.2 123.1 L550.4 123.9 L550.5 124.6 L550.6 125.4 L550.7 126.2 L550.9 127.0 L551.0 127.8 L551.1 128.6 L551.3 129.4 L551.4 130.1 L551.6 130.9 L551.8 131.7 L552.0 132.5 L552.2 133.2 L552.5 134.0 L552.8 134.8 L553.1 135.5 L553.4 136.2 L553.8 137.0 L554.2 137.8 L554.7 138.6 L555.3 139.3 L555.8 140.0 L556.4 140.4 L557.0 140.7 L557.6 140.8 L558.2 140.6 L558.8 140.2 L559.5 139.6 L560.1 139.0 L560.8 138.3 L561.3 137.6 L561.8 136.9 L562.2 136.2 L562.6 135.6 L563.0 134.9 L563.4 134.1 L563.7 133.4 L564.1 132.7 L564.4 131.9 L564.7 131.2 L565.0 130.4 L565.3 129.7 L565.6 129.0 L566.0 128.3 L566.3 127.5 L566.6 126.8 L566.9 126.1 L567.2 125.3 L567.5 124.6 L567.8 123.8 L568.1 123.1 L568.4 122.4 L568.7 121.6 L569.0 120.9 L569.3 120.1 L569.6 119.4 L569.9 118.6 L570.2 117.9 L570.5 117.2 L570.8 116.4 L571.1 115.7 L571.3 114.9 L571.6 114.2 L571.9 113.4 L572.2 112.7 L572.4 111.9 L572.7 111.1 L573.0 110.4 L573.2 109.6 L573.5 108.9 L573.7 108.1 L574.0 107.4 L574.3 106.6 L574.5 105.9 L574.8 105.1 L575.1 104.4 L575.3 103.6 L575.6 102.8 L575.9 102.1 L576.1 101.3 L576.4 100.6 L576.7 99.8 L577.0 99.1 L577.3 98.4 L577.6 97.6 L577.9 96.9 L578.2 96.1 L578.5 95.4 L578.7 94.6 L579.0 93.9 L579.3 93.1 L579.5 92.3 L579.8 91.6 L580.0 90.8 L580.2 90.1 L580.4 89.3 L580.6 88.5 L580.8 87.8 L581.0 87.0 L581.2 86.2 L581.3 85.4 L581.5 84.6 L581.6 83.8 L581.8 83.1 L581.9 82.3 L582.1 81.5 L582.2 80.7 L582.4 79.9 L582.5 79.1 L582.6 78.3 L582.8 77.5 L582.9 76.8 L583.1 76.0 L583.2 75.2 L583.4 74.4 L583.5 73.6 L583.7 72.8 L583.8 72.0 L583.9 71.3 L584.1 70.5 L584.2 69.7 L584.4 68.9 L584.5 68.1 L584.6 67.3 L584.8 66.5 L584.9 65.7 L585.0 65.0 L585.2 64.2 L585.3 63.4 L585.4 62.6 L585.5 61.8 L585.7 61.0 L585.8 60.2 L585.9 59.4 L586.0 58.6 L586.1 57.8 L586.3 57.0 L586.4 56.3 L586.5 55.5 L586.6 54.7 L586.8 53.9 L586.9 53.1 L587.0 52.3 L587.2 51.5 L587.3 50.7 L587.5 50.0 L587.6 49.2 L587.8 48.4 L587.9 47.6 L588.1 46.8 L588.3 46.1 L588.5 45.3 L588.6 44.5 L588.8 43.7 L589.0 42.9 L589.3 42.2 L589.5 41.4 L589.7 40.6 L589.9 39.9 L590.1 39.1 L590.4 38.3 L590.6 37.6 L590.8 36.8 L591.1 36.1 L591.3 35.3 L591.6 34.6 L592.0 33.8 L592.3 33.1 L592.6 32.3 L593.0 31.6 L593.3 30.9 L593.7 30.2 L594.1 29.4 L594.6 28.5 L595.1 27.7 L595.6 27.0 L596.2 26.4 L596.7 26.1 L597.3 26.1 L597.9 26.5 L598.5 27.1 L599.2 27.8 L599.8 28.3 L600.4 28.9 L601.0 29.5 L601.6 30.1 L602.3 30.7 L602.9 31.0 L603.5 31.2 L604.0 31.0 L604.6 30.4 L605.2 29.6 L605.7 28.7 L606.3 27.9 L606.9 27.4 L607.5 27.3 L608.2 27.5 L608.9 27.8 L609.6 28.3 L610.3 28.8 L611.0 29.4 L611.6 30.0 L612.1 30.6 L612.5 31.3 L612.9 32.0 L613.3 32.7 L613.7 33.4 L614.2 34.1 L614.7 34.7 L615.2 35.2 L615.9 35.6 L616.7 35.8 L617.5 36.1 L618.1 36.6 L618.6 37.2 L619.0 37.8 L619.5 38.5 L619.9 39.2 L620.2 39.9 L620.6 40.7 L621.0 41.4 L621.4 42.1 L621.7 42.8 L622.1 43.5 L622.4 44.2 L622.8 45.0 L623.1 45.7 L623.4 46.4 L623.8 47.1 L624.2 47.8 L624.5 48.6 L624.9 49.2 L625.3 49.9 L625.8 50.6 L626.2 51.3 L626.7 51.9 L627.1 52.6 L627.6 53.2 L628.0 53.9 L628.5 54.6 L628.9 55.2 L629.3 55.9 L629.7 56.6 L630.1 57.3 L630.5 58.0 L630.8 58.7 L631.2 59.4 L631.6 60.1 L632.0 60.8 L632.4 61.5 L632.8 62.2 L633.3 62.9 L633.7 63.5 L634.1 64.2 L634.6 64.9 L635.1 65.5 L635.5 66.2 L636.0 66.8 L636.5 67.5 L636.9 68.1 L637.4 68.8 L637.9 69.4 L638.3 70.1 L638.8 70.7 L639.3 71.4 L639.8 72.0 L640.3 72.6 L640.8 73.2 L641.3 73.8 L641.9 74.3 L642.5 74.9 L643.1 75.4 L643.7 76.0 L644.3 76.5 L644.8 77.1 L645.3 77.7 L645.7 78.4 L646.1 79.1 L646.6 79.7 L647.0 80.4 L647.3 81.1 L647.7 81.8 L648.1 82.5 L648.5 83.2 L648.8 84.0 L649.2 84.7 L649.6 85.4 L649.9 86.1 L650.3 86.8 L650.6 87.6 L651.0 88.3 L651.4 89.0 L651.8 89.7 L652.1 90.4 L652.5 91.1 L652.9 91.8 L653.2 92.6 L653.6 93.3 L654.0 94.0 L654.3 94.7 L654.7 95.4 L655.1 96.1 L655.4 96.9 L655.8 97.6 L656.2 98.3 L656.6 99.0 L657.0 99.6 L657.4 100.3 L657.8 101.0 L658.2 101.6 L658.7 102.3 L659.1 102.9 L659.6 103.6 L660.1 104.2 L660.6 104.9 L661.1 105.5 L661.7 106.1 L662.2 106.7 L662.8 107.3 L663.4 107.8 L664.0 108.3 L664.6 108.8 L665.2 109.3 L665.9 109.7 L666.7 110.0 L667.5 110.3 L668.2 110.6 L669.0 110.9 L669.7 111.2 L670.4 111.6 L671.0 112.1 L671.5 112.6 L672.0 113.2 L672.4 113.9 L672.9 114.5 L673.3 115.2 L673.7 115.9 L674.1 116.6 L674.5 117.4 L674.9 118.1 L675.2 118.8 L675.7 119.5 L676.1 120.2 L676.5 120.9 L677.0 121.6 L677.4 122.3 L677.8 123.0 L678.3 123.7 L678.7 124.4 L679.2 125.1 L679.7 125.7 L680.3 126.2 L680.8 126.6 L681.5 127.0 L682.3 127.3 L683.1 127.5 L683.9 127.7 L684.7 127.8 L685.5 127.8 L686.3 127.5 L687.1 127.2 L687.9 126.8 L688.6 126.6 L689.3 126.5 L689.9 126.7 L690.4 127.1 L690.9 127.6 L691.4 128.3 L691.8 129.1 L692.2 129.9 L692.6 130.7 L693.1 131.5 L693.5 132.3 L694.0 133.0 L694.6 133.5 L695.2 134.0 L695.9 134.5 L696.6 135.0 L697.3 135.5 L698.0 135.9 L698.8 136.2 L699.5 136.4 L700.3 136.4 L701.0 136.3 L701.8 136.2 L702.6 136.0 L703.4 135.8 L704.2 135.6 L705.0 135.4 L705.7 135.3 L706.5 135.1 L707.3 135.0 L708.1 134.8 L709.0 134.7 L709.8 134.5 L710.6 134.4 L711.4 134.3 L712.1 134.3 L712.9 134.3 L713.6 134.4 L714.3 134.7 L715.0 135.1 L715.6 135.6 L716.3 136.1 L716.9 136.7 L717.6 137.3 L718.2 137.8 L718.9 138.2 L719.5 138.7 L720.2 139.1 L720.9 139.6 L721.5 140.0 L722.2 140.5 L722.9 140.9 L723.5 141.4 L724.2 141.8 L724.8 142.3 L725.5 142.7 L726.2 143.1 L726.8 143.6 L727.5 144.0 L728.2 144.5 L728.8 144.9 L729.5 145.3 L730.2 145.8 L730.8 146.2 L731.5 146.7 L732.2 147.1 L732.8 147.6 L733.5 148.0" stroke="#e0161c"/>
<path d="M420.1 235.2 L420.5 235.9 L421.0 236.6 L421.6 237.4 L422.2 238.0 L422.9 238.1 L423.7 238.1 L424.4 238.3 L425.2 238.8 L426.0 239.0 L426.8 238.5 L427.6 237.8 L428.4 237.9 L429.2 238.3 L430.0 237.9 L430.8 237.3 L431.6 237.1 L432.4 237.0 L433.1 236.8 L433.9 236.7 L434.7 236.6 L435.4 236.6 L436.2 236.3 L437.0 235.9 L437.7 235.9 L438.5 235.5 L439.2 234.9 L439.9 234.5 L440.7 234.3 L441.4 234.0 L442.2 233.7 L442.9 233.6 L443.7 233.4 L444.4 233.0 L445.2 232.6 L446.0 232.3 L446.7 232.0 L447.5 231.8 L448.3 231.8 L449.1 231.7 L449.8 231.9 L450.6 231.5 L451.4 230.8 L452.1 230.7 L452.9 230.5 L453.7 230.4 L454.4 230.0 L455.2 229.4 L455.9 229.3 L456.6 229.4 L457.4 229.1 L458.1 228.7 L458.8 228.3 L459.6 227.9 L460.3 227.4 L461.0 227.3 L461.8 227.4 L462.5 227.4 L463.2 227.1 L463.9 226.6 L464.6 226.1 L465.4 225.6 L466.1 224.9 L466.8 224.7 L467.5 224.5 L468.2 223.9 L468.9 223.4 L469.6 223.1 L470.3 222.8 L471.0 222.2 L471.7 221.9 L472.4 221.6 L473.1 221.2 L473.9 220.8 L474.6 220.5 L475.3 219.9 L476.1 219.3 L476.8 219.3 L477.5 219.4 L478.3 219.0 L479.0 218.4 L479.8 218.2 L480.6 218.1 L481.3 217.6 L482.1 217.3 L482.8 217.3 L483.6 216.9 L484.4 216.7 L485.1 216.7 L485.9 216.5 L486.7 216.5 L487.5 216.5 L488.3 216.0 L489.1 215.3 L489.9 215.1 L490.6 215.2 L491.4 215.2 L492.0 214.9 L492.7 214.3 L493.3 213.7 L493.9 213.1 L494.4 212.6 L495.0 212.1 L495.6 211.5 L496.2 211.3 L496.9 211.1 L497.5 210.4 L498.3 209.9 L499.1 210.1 L499.9 209.9 L500.7 209.6 L501.5 209.6 L502.3 209.4 L503.1 208.9 L503.8 208.5 L504.5 208.2 L505.2 208.2 L505.9 208.0 L506.6 207.4 L507.3 207.2 L508.0 206.9 L508.7 206.0 L509.3 205.5 L510.0 205.1 L510.7 204.4 L511.4 204.1 L512.1 204.0 L512.8 203.7 L513.5 203.1 L514.2 202.8 L514.9 202.6 L515.5 202.2 L516.2 201.7 L516.8 201.2 L517.3 200.8 L517.9 200.5 L518.5 199.7 L519.0 198.9 L519.6 198.1 L520.1 197.4 L520.6 196.8 L521.0 196.1 L521.4 195.4 L521.8 194.8 L522.2 194.1 L522.5 193.3 L522.8 192.6 L523.1 191.8 L523.4 191.1 L523.7 190.3 L524.0 189.6 L524.3 188.9 L524.7 188.1 L525.0 187.4 L525.3 186.7 L525.6 185.9 L526.0 185.2 L526.3 184.5 L526.6 183.7 L526.9 183.0 L527.2 182.2 L527.5 181.5 L527.8 180.8 L528.1 180.0 L528.3 179.3 L528.6 178.5 L528.8 177.7 L529.0 177.0 L529.3 176.2 L529.5 175.4 L529.7 174.7 L529.9 173.9 L530.1 173.1 L530.3 172.3 L530.5 171.6 L530.7 170.8 L530.8 170.0 L531.0 169.2 L531.2 168.4 L531.3 167.6 L531.5 166.9 L531.6 166.1 L531.8 165.3 L531.9 164.5 L532.0 163.7 L532.2 162.9 L532.3 162.1 L532.4 161.3 L532.6 160.6 L532.7 159.8 L532.8 159.0 L532.9 158.2 L533.1 157.4 L533.2 156.6 L533.3 155.8 L533.4 155.0 L533.6 154.2 L533.7 153.4 L533.8 152.7 L534.0 151.9 L534.1 151.1 L534.3 150.3 L534.4 149.5 L534.5 148.7 L534.7 147.9 L534.8 147.1 L534.9 146.4 L535.1 145.6 L535.2 144.8 L535.4 144.0 L535.5 143.2 L535.6 142.4 L535.8 141.6 L535.9 140.8 L536.1 140.0 L536.2 139.3 L536.3 138.5 L536.5 137.7 L536.7 136.9 L536.8 136.1 L537.0 135.3 L537.1 134.5 L537.3 133.8 L537.4 133.0 L537.6 132.2 L537.7 131.4 L537.8 130.6 L537.9 129.8 L538.0 129.0 L538.1 128.2 L538.2 127.4 L538.3 126.6 L538.4 125.9 L538.5 125.1 L538.6 124.3 L538.7 123.5 L538.7 122.7 L538.8 121.9 L538.9 121.1 L539.0 120.3 L539.0 119.5 L539.1 118.7 L539.2 117.9 L539.2 117.1 L539.3 116.3 L539.4 115.5 L539.4 114.7 L539.5 113.9 L539.5 113.1 L539.6 112.3 L539.6 111.5 L539.7 110.7 L539.7 109.9 L539.8 109.1 L539.8 108.3 L539.9 107.5 L539.9 106.7 L540.0 105.9 L540.0 105.1 L540.1 104.3 L540.1 103.5 L540.2 102.7 L540.2 101.9 L540.3 101.1 L540.3 100.3 L540.4 99.5 L540.4 98.7 L540.5 97.9 L540.5 97.1 L540.6 96.3 L540.7 95.5 L540.7 94.7 L540.8 93.9 L540.8 93.1 L540.9 92.3 L541.0 91.6 L541.1 90.8 L541.2 89.9 L541.3 88.9 L541.5 87.9 L541.6 87.4 L541.8 87.4 L541.9 88.1 L542.1 89.1 L542.2 90.1 L542.4 90.9 L542.5 91.7 L542.6 92.5 L542.7 93.3 L542.8 94.1 L542.9 94.9 L543.0 95.7 L543.0 96.5 L543.1 97.3 L543.2 98.1 L543.3 98.9 L543.3 99.7 L543.4 100.5 L543.5 101.3 L543.5 102.1 L543.6 102.9 L543.7 103.6 L543.7 104.4 L543.8 105.2 L543.8 106.0 L543.9 106.8 L543.9 107.6 L544.0 108.4 L544.1 109.2 L544.1 110.0 L544.2 110.8 L544.2 111.6 L544.3 112.4 L544.3 113.2 L544.4 114.0 L544.4 114.8 L544.4 115.6 L544.5 116.4 L544.5 117.2 L544.6 118.0 L544.6 118.8 L544.6 119.6 L544.7 120.4 L544.7 121.2 L544.7 122.0 L544.8 122.8 L544.8 123.6 L544.9 124.4 L544.9 125.2 L544.9 126.0 L545.0 126.8 L545.0 127.6 L545.0 128.4 L545.1 129.2 L545.1 130.0 L545.1 130.8 L545.2 131.6 L545.2 132.4 L545.2 133.2 L545.3 134.0 L545.3 134.8 L545.3 135.6 L545.4 136.4 L545.4 137.2 L545.4 138.0 L545.4 138.8 L545.5 139.6 L545.5 140.4 L545.5 141.2 L545.6 142.0 L545.6 142.8 L545.6 143.6 L545.7 144.4 L545.7 145.2 L545.7 146.0 L545.8 146.8 L545.8 147.6 L545.8 148.4 L545.9 149.2 L545.9 150.0 L546.0 150.8 L546.0 151.6 L546.1 152.4 L546.1 153.2 L546.2 154.0 L546.2 154.8 L546.3 155.6 L546.3 156.4 L546.4 157.2 L546.4 158.0 L546.5 158.8 L546.5 159.6 L546.6 160.4 L546.7 161.2 L546.7 162.0 L546.8 162.8 L546.9 163.5 L546.9 164.3 L547.0 165.1 L547.0 165.9 L547.1 166.7 L547.2 167.5 L547.2 168.3 L547.3 169.1 L547.4 169.9 L547.4 170.7 L547.5 171.5 L547.5 172.3 L547.6 173.1 L547.7 173.9 L547.7 174.7 L547.8 175.5 L547.9 176.3 L547.9 177.1 L548.0 177.9 L548.1 178.7 L548.1 179.5 L548.2 180.3 L548.3 181.1 L548.3 181.9 L548.4 182.7 L548.5 183.5 L548.5 184.3 L548.6 185.1 L548.7 185.9 L548.8 186.7 L548.9 187.5 L548.9 188.3 L549.0 189.1 L549.1 189.8 L549.2 190.6 L549.3 191.4 L549.4 192.2 L549.6 193.0 L549.7 193.8 L549.8 194.6 L549.9 195.4 L550.0 196.2 L550.1 197.0 L550.2 197.8 L550.3 198.6 L550.4 199.4 L550.5 200.2 L550.6 201.0 L550.6 201.8 L550.7 202.5 L550.8 203.3 L550.8 204.1 L550.9 204.9 L551.0 205.7 L551.1 206.5 L551.2 207.3 L551.3 208.1 L551.3 208.9 L551.4 209.7 L551.6 210.5 L551.7 211.3 L551.8 212.1 L551.9 212.9 L552.0 213.7 L552.2 214.5 L552.3 215.3 L552.5 216.1 L552.6 216.8 L552.8 217.6 L553.0 218.4 L553.2 219.2 L553.5 220.1 L553.8 221.1 L554.2 222.0 L554.6 222.7 L555.0 223.2 L555.4 223.4 L555.8 223.2 L556.3 222.7 L556.8 221.9 L557.2 221.0 L557.6 220.1 L558.0 219.3 L558.3 218.6 L558.5 217.8 L558.8 217.1 L559.0 216.3 L559.2 215.6 L559.5 214.8 L559.7 214.0 L559.9 213.2 L560.1 212.5 L560.3 211.7 L560.5 210.9 L560.8 210.2 L561.0 209.4 L561.2 208.6 L561.5 207.9 L561.7 207.1 L562.0 206.3 L562.2 205.6 L562.4 204.8 L562.7 204.0 L562.9 203.3 L563.2 202.5 L563.5 201.8 L563.8 201.0 L564.1 200.3 L564.4 199.6 L564.8 198.9 L565.1 198.1 L565.4 197.4 L565.7 196.7 L565.9 195.9 L566.2 195.1 L566.4 194.4 L566.7 193.6 L566.9 192.9 L567.1 192.1 L567.3 191.3 L567.5 190.5 L567.7 189.8 L568.0 189.0 L568.2 188.2 L568.4 187.4 L568.6 186.7 L568.8 185.9 L569.0 185.1 L569.2 184.3 L569.4 183.6 L569.6 182.8 L569.8 182.0 L570.1 181.3 L570.3 180.5 L570.5 179.7 L570.7 178.9 L570.9 178.2 L571.2 177.4 L571.4 176.6 L571.6 175.9 L571.8 175.1 L572.0 174.3 L572.2 173.6 L572.5 172.8 L572.7 172.0 L572.9 171.3 L573.1 170.5 L573.3 169.7 L573.5 168.9 L573.7 168.2 L573.9 167.4 L574.2 166.6 L574.4 165.8 L574.6 165.1 L574.8 164.3 L575.0 163.5 L575.2 162.8 L575.4 162.0 L575.6 161.2 L575.8 160.4 L576.0 159.7 L576.2 158.9 L576.4 158.1 L576.6 157.3 L576.8 156.6 L577.0 155.8 L577.2 155.0 L577.3 154.2 L577.5 153.4 L577.7 152.7 L577.9 151.9 L578.1 151.1 L578.2 150.3 L578.4 149.5 L578.6 148.8 L578.7 148.0 L578.9 147.2 L579.1 146.4 L579.2 145.6 L579.4 144.9 L579.6 144.1 L579.7 143.3 L579.9 142.5 L580.0 141.7 L580.2 140.9 L580.3 140.1 L580.5 139.4 L580.6 138.6 L580.8 137.8 L580.9 137.0 L581.1 136.2 L581.2 135.4 L581.4 134.6 L581.5 133.9 L581.7 133.1 L581.8 132.3 L581.9 131.5 L582.1 130.7 L582.2 129.9 L582.4 129.1 L582.5 128.3 L582.6 127.6 L582.8 126.8 L582.9 126.0 L583.0 125.2 L583.2 124.4 L583.3 123.6 L583.4 122.8 L583.6 122.0 L583.7 121.2 L583.8 120.5 L584.0 119.7 L584.1 118.9 L584.2 118.1 L584.3 117.3 L584.5 116.5 L584.6 115.7 L584.7 114.9 L584.8 114.1 L584.9 113.3 L585.0 112.5 L585.1 111.8 L585.3 111.0 L585.4 110.2 L585.5 109.4 L585.6 108.6 L585.7 107.8 L585.8 107.0 L585.9 106.2 L586.0 105.4 L586.1 104.6 L586.1 103.8 L586.2 103.0 L586.3 102.2 L586.4 101.4 L586.5 100.6 L586.7 99.8 L586.8 99.1 L586.9 98.3 L587.0 97.5 L587.1 96.7 L587.2 95.9 L587.3 95.1 L587.5 94.3 L587.6 93.5 L587.7 92.7 L587.9 91.9 L588.0 91.2 L588.2 90.4 L588.3 89.6 L588.5 88.8 L588.6 88.0 L588.8 87.2 L589.0 86.4 L589.1 85.6 L589.3 84.9 L589.5 84.1 L589.7 83.3 L589.9 82.5 L590.1 81.8 L590.2 81.0 L590.4 80.2 L590.6 79.5 L590.9 78.7 L591.1 77.9 L591.4 77.2 L591.6 76.4 L591.9 75.6 L592.2 74.9 L592.5 74.1 L592.9 73.4 L593.2 72.7 L593.5 71.9 L593.9 71.2 L594.2 70.5 L594.5 69.8 L594.9 69.1 L595.4 68.4 L595.8 67.7 L596.3 67.1 L596.9 66.5 L597.4 66.0 L598.1 65.6 L598.9 65.3 L599.7 65.2 L600.5 65.0 L601.2 64.6 L601.8 64.1 L602.3 63.6 L602.8 62.9 L603.2 62.2 L603.6 61.5 L604.0 60.8 L604.5 60.1 L604.9 59.5 L605.4 58.8 L606.0 58.2 L606.5 57.6 L607.1 57.0 L607.7 56.5 L608.3 56.0 L609.0 55.7 L609.9 55.5 L610.7 55.4 L611.5 55.5 L612.2 55.8 L612.8 56.3 L613.3 56.9 L613.9 57.5 L614.6 58.0 L615.4 58.0 L616.2 57.7 L617.0 57.4 L617.7 57.6 L618.2 58.1 L618.7 58.7 L619.1 59.5 L619.5 60.2 L620.0 60.9 L620.4 61.6 L620.8 62.3 L621.2 63.0 L621.7 63.7 L622.1 64.4 L622.5 65.1 L623.0 65.7 L623.4 66.4 L623.9 66.9 L624.5 67.5 L625.1 67.9 L625.8 68.4 L626.5 68.8 L627.2 69.3 L627.8 69.8 L628.4 70.3 L629.0 70.9 L629.6 71.4 L630.1 72.0 L630.7 72.6 L631.3 73.1 L631.8 73.7 L632.3 74.3 L632.9 74.9 L633.4 75.5 L633.9 76.1 L634.4 76.8 L634.9 77.4 L635.5 78.0 L636.0 78.5 L636.6 79.1 L637.2 79.6 L637.9 80.1 L638.5 80.5 L639.1 81.0 L639.8 81.5 L640.4 82.0 L641.1 82.5 L641.7 82.9 L642.3 83.5 L642.9 84.0 L643.5 84.6 L644.0 85.1 L644.6 85.7 L645.1 86.3 L645.6 86.9 L646.2 87.5 L646.7 88.1 L647.2 88.8 L647.7 89.4 L648.2 90.0 L648.7 90.6 L649.2 91.3 L649.6 91.9 L650.1 92.6 L650.6 93.2 L651.0 93.9 L651.4 94.6 L651.9 95.3 L652.3 95.9 L652.7 96.6 L653.1 97.3 L653.6 98.0 L654.0 98.7 L654.4 99.3 L654.9 100.0 L655.4 100.6 L655.9 101.2 L656.4 101.9 L656.9 102.5 L657.4 103.1 L657.9 103.7 L658.5 104.3 L659.1 104.9 L659.6 105.4 L660.2 106.0 L660.8 106.5 L661.5 107.0 L662.1 107.5 L662.7 107.9 L663.4 108.3 L664.1 108.6 L664.9 108.9 L665.6 109.2 L666.4 109.5 L667.2 109.7 L667.9 110.0 L668.7 110.3 L669.4 110.7 L670.1 111.1 L670.7 111.6 L671.4 112.0 L672.0 112.5 L672.6 113.1 L673.2 113.6 L673.8 114.2 L674.4 114.7 L674.9 115.3 L675.5 115.9 L676.0 116.5 L676.5 117.2 L676.9 117.9 L677.4 118.6 L677.8 119.3 L678.2 120.0 L678.7 120.7 L679.1 121.3 L679.7 121.9 L680.2 122.4 L680.8 122.9 L681.5 123.2 L682.3 123.5 L683.1 123.7 L683.9 123.9 L684.7 123.9 L685.5 123.8 L686.2 123.4 L686.9 122.9 L687.7 122.4 L688.4 122.0 L689.1 121.8 L689.7 121.9 L690.3 122.3 L690.9 122.8 L691.4 123.4 L692.0 124.1 L692.5 124.8 L693.1 125.5 L693.6 126.1 L694.1 126.7 L694.7 127.4 L695.2 128.1 L695.7 128.8 L696.2 129.4 L696.7 130.0 L697.3 130.5 L697.9 130.8 L698.6 131.0 L699.4 131.2 L700.3 131.2 L701.1 131.2 L701.9 131.1 L702.7 130.9 L703.5 130.6 L704.2 130.3 L704.9 130.0 L705.7 129.7 L706.4 129.3 L707.1 129.0 L707.9 128.6 L708.6 128.3 L709.3 127.9 L710.0 127.5 L710.7 127.1 L711.5 126.8 L712.2 126.7 L713.0 126.6 L713.8 126.8 L714.6 127.0 L715.4 127.3 L716.1 127.7 L716.8 128.1 L717.4 128.5 L718.0 129.0 L718.6 129.6 L719.2 130.2 L719.8 130.7 L720.4 131.3 L721.0 131.8 L721.5 132.4 L722.1 133.0 L722.7 133.5 L723.2 134.1 L723.8 134.7 L724.4 135.2 L724.9 135.8 L725.5 136.4 L726.1 137.0 L726.6 137.5 L727.2 138.1 L727.7 138.7 L728.3 139.2 L728.9 139.8 L729.4 140.4 L730.0 140.9 L730.6 141.5 L731.1 142.0 L731.7 142.6 L732.3 143.1 L732.9 143.7 L733.5 144.2" stroke="#0a0a0a"/>
</g>
<rect x="35.9" y="8.7" width="313.00" height="251.10" fill="none" stroke="#0a0a0a" stroke-width="1.75"/>
<line x1="88.07" y1="259.8" x2="88.07" y2="256.80" stroke="#0a0a0a" stroke-width="1.3"/>
<line x1="140.23" y1="259.8" x2="140.23" y2="254.60" stroke="#0a0a0a" stroke-width="1.3"/>
<line x1="192.40" y1="259.8" x2="192.40" y2="256.80" stroke="#0a0a0a" stroke-width="1.3"/>
<line x1="244.57" y1="259.8" x2="244.57" y2="254.60" stroke="#0a0a0a" stroke-width="1.3"/>
<line x1="296.73" y1="259.8" x2="296.73" y2="256.80" stroke="#0a0a0a" stroke-width="1.3"/>
<line x1="35.9" y1="228.41" x2="38.90" y2="228.41" stroke="#0a0a0a" stroke-width="1.3"/>
<line x1="35.9" y1="197.03" x2="41.10" y2="197.03" stroke="#0a0a0a" stroke-width="1.3"/>
<line x1="35.9" y1="165.64" x2="38.90" y2="165.64" stroke="#0a0a0a" stroke-width="1.3"/>
<line x1="35.9" y1="134.25" x2="41.10" y2="134.25" stroke="#0a0a0a" stroke-width="1.3"/>
<line x1="35.9" y1="102.86" x2="38.90" y2="102.86" stroke="#0a0a0a" stroke-width="1.3"/>
<line x1="35.9" y1="71.47" x2="41.10" y2="71.47" stroke="#0a0a0a" stroke-width="1.3"/>
<line x1="35.9" y1="40.09" x2="38.90" y2="40.09" stroke="#0a0a0a" stroke-width="1.3"/>
<rect x="419.8" y="8.7" width="313.70" height="251.10" fill="none" stroke="#0a0a0a" stroke-width="1.75"/>
<line x1="472.08" y1="259.8" x2="472.08" y2="256.80" stroke="#0a0a0a" stroke-width="1.3"/>
<line x1="524.37" y1="259.8" x2="524.37" y2="254.60" stroke="#0a0a0a" stroke-width="1.3"/>
<line x1="576.65" y1="259.8" x2="576.65" y2="256.80" stroke="#0a0a0a" stroke-width="1.3"/>
<line x1="628.93" y1="259.8" x2="628.93" y2="254.60" stroke="#0a0a0a" stroke-width="1.3"/>
<line x1="681.22" y1="259.8" x2="681.22" y2="256.80" stroke="#0a0a0a" stroke-width="1.3"/>
<line x1="419.8" y1="228.41" x2="422.80" y2="228.41" stroke="#0a0a0a" stroke-width="1.3"/>
<line x1="419.8" y1="197.03" x2="425.00" y2="197.03" stroke="#0a0a0a" stroke-width="1.3"/>
<line x1="419.8" y1="165.64" x2="422.80" y2="165.64" stroke="#0a0a0a" stroke-width="1.3"/>
<line x1="419.8" y1="134.25" x2="425.00" y2="134.25" stroke="#0a0a0a" stroke-width="1.3"/>
<line x1="419.8" y1="102.86" x2="422.80" y2="102.86" stroke="#0a0a0a" stroke-width="1.3"/>
<line x1="419.8" y1="71.47" x2="425.00" y2="71.47" stroke="#0a0a0a" stroke-width="1.3"/>
<line x1="419.8" y1="40.09" x2="422.80" y2="40.09" stroke="#0a0a0a" stroke-width="1.3"/>
<text x="29.6" y="263.80" font-family="'Liberation Sans', Arial, sans-serif" font-size="13.8" text-anchor="end" fill="#0a0a0a" >0</text>
<text x="29.6" y="201.03" font-family="'Liberation Sans', Arial, sans-serif" font-size="13.8" text-anchor="end" fill="#0a0a0a" >1</text>
<text x="29.6" y="138.25" font-family="'Liberation Sans', Arial, sans-serif" font-size="13.8" text-anchor="end" fill="#0a0a0a" >2</text>
<text x="29.6" y="75.47" font-family="'Liberation Sans', Arial, sans-serif" font-size="13.8" text-anchor="end" fill="#0a0a0a" >3</text>
<text x="29.6" y="12.70" font-family="'Liberation Sans', Arial, sans-serif" font-size="13.8" text-anchor="end" fill="#0a0a0a" >4</text>
<text x="35.90" y="276.6" font-family="'Liberation Sans', Arial, sans-serif" font-size="13.8" text-anchor="middle" fill="#0a0a0a" >500</text>
<text x="140.23" y="276.6" font-family="'Liberation Sans', Arial, sans-serif" font-size="13.8" text-anchor="middle" fill="#0a0a0a" >1000</text>
<text x="244.57" y="276.6" font-family="'Liberation Sans', Arial, sans-serif" font-size="13.8" text-anchor="middle" fill="#0a0a0a" >1500</text>
<text x="348.90" y="276.6" font-family="'Liberation Sans', Arial, sans-serif" font-size="13.8" text-anchor="middle" fill="#0a0a0a" >2000</text>
<text x="413.7" y="263.80" font-family="'Liberation Sans', Arial, sans-serif" font-size="14.0" text-anchor="end" fill="#0a0a0a" >0</text>
<text x="413.7" y="201.03" font-family="'Liberation Sans', Arial, sans-serif" font-size="14.0" text-anchor="end" fill="#0a0a0a" >100</text>
<text x="413.7" y="138.25" font-family="'Liberation Sans', Arial, sans-serif" font-size="14.0" text-anchor="end" fill="#0a0a0a" >200</text>
<text x="413.7" y="75.47" font-family="'Liberation Sans', Arial, sans-serif" font-size="14.0" text-anchor="end" fill="#0a0a0a" >300</text>
<text x="413.7" y="12.70" font-family="'Liberation Sans', Arial, sans-serif" font-size="14.0" text-anchor="end" fill="#0a0a0a" >400</text>
<text x="419.80" y="276.8" font-family="'Liberation Sans', Arial, sans-serif" font-size="14.0" text-anchor="middle" fill="#0a0a0a" >500</text>
<text x="524.37" y="276.8" font-family="'Liberation Sans', Arial, sans-serif" font-size="14.0" text-anchor="middle" fill="#0a0a0a" >1000</text>
<text x="628.93" y="276.8" font-family="'Liberation Sans', Arial, sans-serif" font-size="14.0" text-anchor="middle" fill="#0a0a0a" >1500</text>
<text x="733.50" y="276.8" font-family="'Liberation Sans', Arial, sans-serif" font-size="14.0" text-anchor="middle" fill="#0a0a0a" >2000</text>
<text x="192.4" y="301.4" font-family="'Liberation Sans', Arial, sans-serif" font-size="13.8" text-anchor="middle" fill="#0a0a0a" textLength="100" lengthAdjust="spacingAndGlyphs">Frequency (Hz)</text>
<text x="576.0" y="302.2" font-family="'Liberation Sans', Arial, sans-serif" font-size="14.6" text-anchor="middle" fill="#0a0a0a" textLength="107" lengthAdjust="spacingAndGlyphs">Frequency (Hz)</text>
<text transform="translate(13.7 144.7) rotate(-90)" font-family="'Liberation Sans', Arial, sans-serif" font-size="13.8" text-anchor="middle" fill="#0a0a0a" textLength="120.5" lengthAdjust="spacingAndGlyphs">Sensitivity (<tspan font-family="'Liberation Serif', 'Times New Roman', serif">μ</tspan>m/Pa)</text>
<text transform="translate(382.9 143.9) rotate(-90)" font-family="'Liberation Sans', Arial, sans-serif" font-size="14.2" text-anchor="middle" fill="#0a0a0a" textLength="121.5" lengthAdjust="spacingAndGlyphs">Sensitivity (nm/Pa)</text>
<text x="183" y="350.2" font-family="'Liberation Sans', Arial, sans-serif" font-size="17.4" text-anchor="middle" fill="#0a0a0a" >(a)</text>
<text x="559.6" y="350.2" font-family="'Liberation Sans', Arial, sans-serif" font-size="18.6" text-anchor="middle" fill="#0a0a0a" >(b)</text>
<text x="49.6" y="32" font-family="'Liberation Sans', Arial, sans-serif" font-size="14.0" fill="#0a0a0a" textLength="97.5" lengthAdjust="spacingAndGlyphs">+ 45<tspan font-size="8.8" dy="-6.8">o</tspan><tspan dy="6.8"> incidence</tspan></text>
<text x="435.2" y="38.5" font-family="'Liberation Sans', Arial, sans-serif" font-size="14.2" fill="#0a0a0a" textLength="94" lengthAdjust="spacingAndGlyphs">+45<tspan font-size="8.8" dy="-6.8">o</tspan><tspan dy="6.8"> incidence</tspan></text>
<line x1="288.8" y1="25.8" x2="322.4" y2="25.8" stroke="#e0161c" stroke-width="1.9"/>
<line x1="288.8" y1="44.0" x2="322.4" y2="44.0" stroke="#0a0a0a" stroke-width="1.7"/>
<text x="326.2" y="30.5" font-family="'Liberation Sans', Arial, sans-serif" font-size="14.0" text-anchor="start" fill="#0a0a0a" >L</text>
<text x="326.2" y="48.6" font-family="'Liberation Sans', Arial, sans-serif" font-size="14.0" text-anchor="start" fill="#0a0a0a" >R</text>
<line x1="675.9" y1="22.6" x2="709.5" y2="22.6" stroke="#e0161c" stroke-width="1.9"/>
<line x1="675.9" y1="40.6" x2="709.5" y2="40.6" stroke="#0a0a0a" stroke-width="1.7"/>
<text x="713.2" y="27.2" font-family="'Liberation Sans', Arial, sans-serif" font-size="14.2" text-anchor="start" fill="#0a0a0a" >L</text>
<text x="713.2" y="45.3" font-family="'Liberation Sans', Arial, sans-serif" font-size="14.2" text-anchor="start" fill="#0a0a0a" >R</text>
<rect x="62.4" y="66.3" width="89.7" height="81.5" fill="#fff" stroke="#0a0a0a" stroke-width="1"/>
<line x1="104.6" y1="74.2" x2="104.6" y2="121" stroke="#444" stroke-width="0.7" stroke-dasharray="1.4 1.4"/>
<line x1="82.4" y1="123.4" x2="102.6" y2="123.4" stroke="#0a0a0a" stroke-width="1.8"/>
<line x1="105.9" y1="123.4" x2="126.6" y2="123.4" stroke="#0a0a0a" stroke-width="1.8"/>
<line x1="143.4" y1="85.5" x2="112" y2="116" stroke="#0000f0" stroke-width="1.9"/>
<polygon points="105.4,122.4 110.6,110.8 116.9,117.3" fill="#0000f0"/>
<path d="M104.6 87.6 C110 85.3 117.5 86.3 122 90.6 C124.6 93 126.2 96 126.7 98" fill="none" stroke="#0a0a0a" stroke-width="1.1"/>
<polygon points="127.5,101.2 124.2,95.6 128.4,94.6" fill="#0a0a0a"/>
<text x="121.0" y="85.5" font-family="'Liberation Serif', 'Times New Roman', serif" font-size="11.8" text-anchor="middle" fill="#0a0a0a" >θ</text>
<text x="84.5" y="137.4" font-family="'Liberation Sans', Arial, sans-serif" font-size="10.4" text-anchor="middle" fill="#0a0a0a" >L</text>
<text x="126.5" y="137.4" font-family="'Liberation Sans', Arial, sans-serif" font-size="10.4" text-anchor="middle" fill="#0a0a0a" >R</text>
</svg>
</body>
</html>
